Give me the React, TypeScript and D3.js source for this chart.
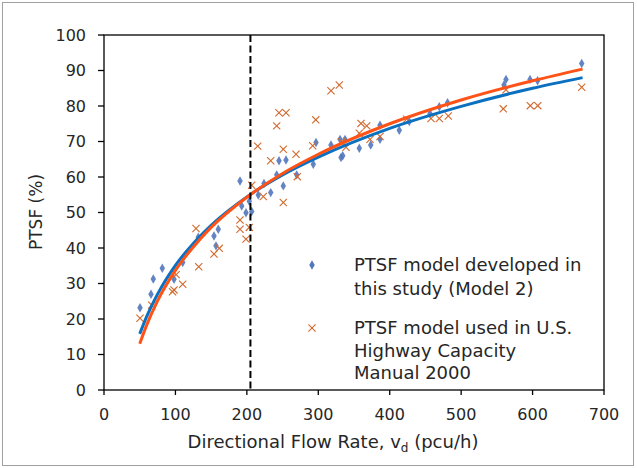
import React from "react";
import * as d3 from "d3";

// ---- Data ----
const modelFlow = [50.4, 65.8, 69.0, 81.6, 98, 110.2, 132, 154, 156.8, 160, 190.4, 192.8, 198.8, 206.8, 203.4, 216, 224, 233.4, 241.8, 245, 254.8, 251, 269.8, 293, 296.8, 317.8, 330.4, 337.4, 331.8, 334.2, 357.4, 373.4, 386.4, 386.4, 413.4, 427.4, 456.4, 469.4, 481, 560, 562.8, 596.4, 607, 668.8];
const modelPtsf = [23.2, 27.0, 31.3, 34.3, 31.2, 35.9, 43.0, 43.4, 40.6, 45.3, 58.9, 51.8, 49.9, 50.3, 53.2, 54.9, 58.2, 55.6, 60.6, 64.6, 64.8, 57.5, 60.6, 63.6, 69.7, 69.0, 70.6, 70.6, 65.5, 66.0, 68.1, 69.0, 70.6, 74.6, 73.2, 75.6, 77.9, 79.8, 80.9, 85.9, 87.5, 87.5, 87.1, 92.0];

const hcmFlow = [50.4, 66.8, 98, 95.9, 101, 110.2, 132.6, 128.8, 154, 161.4, 190.4, 190.4, 203.4, 198.8, 206.8, 215.2, 223, 233.4, 241.8, 245, 254.8, 251, 251, 268.8, 270.6, 292.2, 296.5, 317.8, 329.4, 332.8, 338.8, 357.4, 359.8, 367.8, 372.4, 386.4, 423.8, 457.8, 469.4, 482, 559, 562.8, 596.8, 607.3, 668.8];
const hcmPtsf = [20.2, 23.9, 28.2, 27.7, 32.5, 29.8, 34.7, 45.5, 38.3, 39.9, 47.9, 45.3, 45.8, 42.5, 57.7, 68.7, 54.5, 64.6, 74.4, 78.1, 78.1, 67.8, 52.8, 66.4, 60.1, 68.8, 76.1, 84.3, 85.9, 69.9, 68.4, 72.3, 75.1, 74.4, 70.6, 71.4, 76.3, 76.5, 76.5, 77.2, 79.2, 84.6, 80.1, 80.1, 85.3];

// trend curves
const curveFlow = [50, 60, 75, 100, 125, 150, 200, 250, 300, 400, 500, 600, 670];
const modelCurve = [15.8, 20.8, 27.0, 35.1, 41.3, 46.4, 54.4, 60.6, 65.6, 73.7, 79.9, 85.0, 88.0];
const hcmCurve = [13.0, 18.4, 25.1, 33.7, 40.3, 45.8, 54.3, 61.0, 66.4, 75.0, 81.7, 87.1, 90.4];

const thresholdFlow = 205;

const xTicks = [0, 100, 200, 300, 400, 500, 600, 700];
const yTicks = [0, 10, 20, 30, 40, 50, 60, 70, 80, 90, 100];

const legendModel = ["PTSF model developed in", "this study (Model 2)"];
const legendHcm = ["PTSF model used in U.S.", "Highway Capacity", "Manual 2000"];

const W = 637;
const H = 468;
const plot = { left: 104, right: 604, top: 35, bottom: 390 };
const FONT = "'DejaVu Sans', sans-serif";
const TEXT = "#262626";
const BLUE_PT = "#5277BC";
const ORANGE_PT = "#D2692C";
const BLUE_LINE = "#0B70C0";
const ORANGE_LINE = "#FF5217";

export default function App() {
  const x = d3.scaleLinear().domain([0, 700]).range([plot.left, plot.right]);
  const y = d3.scaleLinear().domain([0, 100]).range([plot.bottom, plot.top]);

  const line = d3
    .line<[number, number]>()
    .x((d) => x(d[0]))
    .y((d) => y(d[1]))
    .curve(d3.curveMonotoneX);

  const bluePath = line(curveFlow.map((f, i) => [f, modelCurve[i]]));
  const orangePath = line(curveFlow.map((f, i) => [f, hcmCurve[i]]));
  const diamond = d3.symbol().type(d3.symbolDiamond).size(26)();

  const xMark = (cx: number, cy: number, key: string, r = 3.6) => (
    <g key={key} stroke={ORANGE_PT} strokeWidth={1.1}>
      <line x1={cx - r} y1={cy - r} x2={cx + r} y2={cy + r} />
      <line x1={cx - r} y1={cy + r} x2={cx + r} y2={cy - r} />
    </g>
  );

  return (
    <div style={{ position: "absolute", left: 0, top: 0 }}>
      <svg width={W} height={H} style={{ display: "block", fontFamily: FONT }}>
        <rect x={0} y={0} width={W} height={H} fill="#fff" />
        <rect x={2.5} y={2.5} width={631} height={463} fill="none" stroke="#A0A0A0" strokeWidth={1} />

        {/* points */}
        {modelFlow.map((f, i) => (
          <path key={"b" + i} d={diamond || ""} transform={`translate(${x(f)},${y(modelPtsf[i])})`} fill={BLUE_PT} opacity={0.9} />
        ))}
        {hcmFlow.map((f, i) => xMark(x(f), y(hcmPtsf[i]), "o" + i))}

        {/* trend curves */}
        <path d={bluePath || ""} fill="none" stroke={BLUE_LINE} strokeWidth={3} />
        <path d={orangePath || ""} fill="none" stroke={ORANGE_LINE} strokeWidth={3} />

        {/* dashed threshold */}
        <line x1={x(thresholdFlow)} x2={x(thresholdFlow)} y1={plot.top} y2={plot.bottom} stroke="#000" strokeWidth={2} strokeDasharray="7,3.5" />

        {/* plot frame */}
        <rect x={plot.left} y={plot.top} width={plot.right - plot.left} height={plot.bottom - plot.top} fill="none" stroke="#000" strokeWidth={1.3} />

        {/* y axis */}
        {yTicks.map((t) => (
          <g key={"y" + t}>
            <line x1={plot.left - 6} x2={plot.left} y1={y(t)} y2={y(t)} stroke="#000" strokeWidth={1.3} />
            <text x={86} y={y(t)} dy="0.36em" textAnchor="end" fontSize={16} fill={TEXT}>{t}</text>
          </g>
        ))}
        {/* x axis */}
        {xTicks.map((t) => (
          <g key={"x" + t}>
            <line x1={x(t)} x2={x(t)} y1={plot.bottom} y2={plot.bottom + 5} stroke="#000" strokeWidth={1.3} />
            <text x={x(t)} y={414} dy="0.36em" textAnchor="middle" fontSize={16} fill={TEXT}>{t}</text>
          </g>
        ))}

        <text x={333} y={448} textAnchor="middle" fontSize={18} fill={TEXT}>
          Directional Flow Rate, v<tspan fontSize={12} dy={4}>d</tspan><tspan dy={-4}> (pcu/h)</tspan>
        </text>
        <text transform="translate(42,212) rotate(-90)" textAnchor="middle" fontSize={17} fill={TEXT}>PTSF (%)</text>

        {/* legend */}
        <path d={diamond || ""} transform="translate(312,265)" fill={BLUE_PT} />
        {legendModel.map((s, i) => (
          <text key={"lm" + i} x={354} y={265 + i * 24} dy="0.36em" fontSize={18} fill={TEXT}>{s}</text>
        ))}
        {xMark(312, 328, "lx", 3.6)}
        {legendHcm.map((s, i) => (
          <text key={"lh" + i} x={354} y={328 + i * 22.2} dy="0.36em" fontSize={18} fill={TEXT}>{s}</text>
        ))}
      </svg>
    </div>
  );
}
